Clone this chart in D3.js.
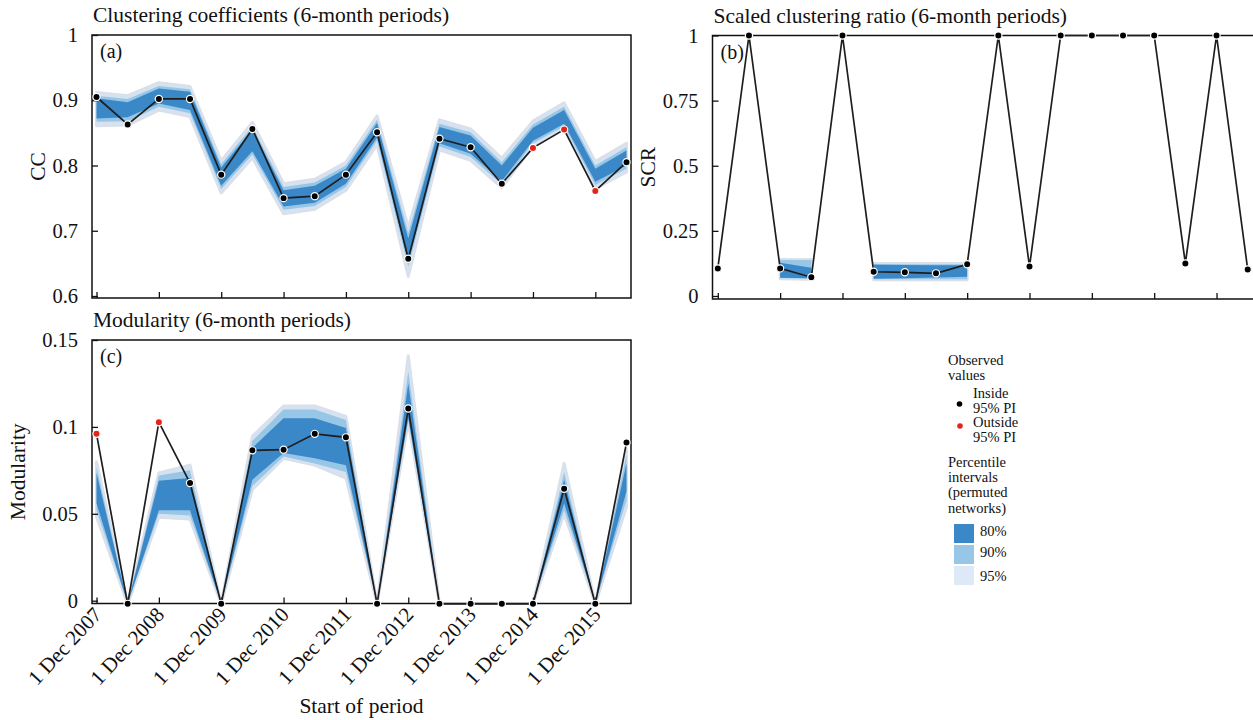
<!DOCTYPE html>
<html>
<head>
<meta charset="utf-8">
<script src="https://cdn.jsdelivr.net/npm/d3@7"></script>
<style>
  html, body { margin: 0; padding: 0; background: #ffffff; }
  svg { display: block; font-family: "Liberation Serif", "DejaVu Serif", serif; }
</style>
</head>
<body>
<svg id="chart" width="1253" height="720"></svg>
<script>
// Six-month periods, each starting on the date given
const periods = ["1 Dec 2007", "1 Jun 2008", "1 Dec 2008", "1 Jun 2009", "1 Dec 2009", "1 Jun 2010",
  "1 Dec 2010", "1 Jun 2011", "1 Dec 2011", "1 Jun 2012", "1 Dec 2012", "1 Jun 2013",
  "1 Dec 2013", "1 Jun 2014", "1 Dec 2014", "1 Jun 2015", "1 Dec 2015", "1 Jun 2016"];
const tickIndex = [0, 2, 4, 6, 8, 10, 12, 14, 16];
const tickLabels = ["1 Dec 2007", "1 Dec 2008", "1 Dec 2009", "1 Dec 2010", "1 Dec 2011",
  "1 Dec 2012", "1 Dec 2013", "1 Dec 2014", "1 Dec 2015"];

// (a) Clustering coefficient
const ccObserved = [0.905, 0.863, 0.902, 0.902, 0.786, 0.856, 0.750, 0.753, 0.786, 0.851,
  0.657, 0.841, 0.828, 0.772, 0.827, 0.855, 0.761, 0.805];
const ccOutside = [0, 0, 0, 0, 0, 0, 0, 0, 0, 0, 0, 0, 0, 0, 1, 1, 1, 0];
const cc80 = [[0.872, 0.903], [0.874, 0.897], [0.895, 0.918], [0.885, 0.913], [0.769, 0.797],
  [0.822, 0.855], [0.737, 0.762], [0.743, 0.769], [0.772, 0.795], [0.843, 0.865],
  [0.652, 0.688], [0.834, 0.859], [0.818, 0.846], [0.776, 0.800], [0.838, 0.858],
  [0.864, 0.885], [0.775, 0.795], [0.800, 0.823]];
const cc90 = [[0.867, 0.907], [0.868, 0.902], [0.890, 0.922], [0.880, 0.917], [0.764, 0.802],
  [0.817, 0.860], [0.732, 0.767], [0.738, 0.774], [0.767, 0.800], [0.838, 0.870],
  [0.645, 0.697], [0.829, 0.864], [0.813, 0.851], [0.771, 0.805], [0.834, 0.863],
  [0.860, 0.890], [0.770, 0.800], [0.795, 0.828]];
const cc95 = [[0.861, 0.912], [0.862, 0.907], [0.885, 0.927], [0.875, 0.921], [0.758, 0.807],
  [0.812, 0.866], [0.726, 0.772], [0.733, 0.779], [0.762, 0.805], [0.832, 0.876],
  [0.630, 0.705], [0.824, 0.870], [0.808, 0.856], [0.766, 0.811], [0.830, 0.868],
  [0.857, 0.896], [0.765, 0.806], [0.790, 0.834]];

// (b) Scaled clustering ratio (intervals only where the permuted values vary)
const scrObserved = [0.106, 1, 0.106, 0.072, 1, 0.093, 0.091, 0.087, 0.122, 1,
  0.113, 1, 1, 1, 1, 0.125, 1, 0.102];
const scrOutside = [0, 0, 0, 0, 0, 0, 0, 0, 0, 0, 0, 0, 0, 0, 0, 0, 0, 0];
const scr80 = [null, null, [0.070, 0.128], [0.068, 0.108], null, [0.066, 0.120], [0.068, 0.119],
  [0.071, 0.118], [0.074, 0.118], null, null, null, null, null, null, null, null, null];
const scr90 = [null, null, [0.068, 0.138], [0.066, 0.138], null, [0.064, 0.123], [0.064, 0.122],
  [0.064, 0.122], [0.064, 0.122], null, null, null, null, null, null, null, null, null];
const scr95 = [null, null, [0.066, 0.140], [0.064, 0.140], null, [0.062, 0.125], [0.062, 0.125],
  [0.062, 0.125], [0.062, 0.125], null, null, null, null, null, null, null, null, null];

// (c) Modularity
const modObserved = [0.096, -0.0018, 0.1027, 0.0677, -0.0018, 0.0865, 0.0869, 0.096, 0.094, -0.0018,
  0.1106, -0.0018, -0.0018, -0.0018, -0.0018, 0.0644, -0.0018, 0.091];
const modOutside = [1, 0, 1, 0, 0, 0, 0, 0, 0, 0, 0, 0, 0, 0, 0, 0, 0, 0];
const mod80 = [[0.056, 0.0735], [-0.0018, -0.0018], [0.052, 0.069], [0.052, 0.0706], [-0.0018, -0.0018],
  [0.0696, 0.088], [0.085, 0.105], [0.082, 0.105], [0.078, 0.0994], [-0.0018, -0.0018],
  [0.105, 0.125], [-0.0018, -0.0018], [-0.0018, -0.0018], [-0.0018, -0.0018], [-0.0018, -0.0018],
  [0.056, 0.0696], [-0.0018, -0.0018], [0.063, 0.079]];
const mod90 = [[0.052, 0.077], [-0.0018, -0.0018], [0.050, 0.072], [0.049, 0.075], [-0.0018, -0.0018],
  [0.066, 0.092], [0.083, 0.110], [0.079, 0.110], [0.074, 0.104], [-0.0018, -0.0018],
  [0.104, 0.132], [-0.0018, -0.0018], [-0.0018, -0.0018], [-0.0018, -0.0018], [-0.0018, -0.0018],
  [0.052, 0.074], [-0.0018, -0.0018], [0.058, 0.084]];
const mod95 = [[0.0485, 0.080], [-0.0018, -0.0018], [0.048, 0.0735], [0.047, 0.078], [-0.0018, -0.0018],
  [0.064, 0.0946], [0.082, 0.112], [0.078, 0.112], [0.0706, 0.106], [-0.0018, -0.0018],
  [0.103, 0.141], [-0.0018, -0.0018], [-0.0018, -0.0018], [-0.0018, -0.0018], [-0.0018, -0.0018],
  [0.050, 0.079], [-0.0018, -0.0018], [0.054, 0.087]];

const ccTicks = [0.6, 0.7, 0.8, 0.9, 1];
const ccTickLabels = ["0.6", "0.7", "0.8", "0.9", "1"];
const scrTicks = [0, 0.25, 0.5, 0.75, 1];
const scrTickLabels = ["0", "0.25", "0.5", "0.75", "1"];
const modTicks = [0, 0.05, 0.1, 0.15];
const modTickLabels = ["0", "0.05", "0.1", "0.15"];

const colors = { p80: "#3a88c7", p90: "#98c6e6", p95: "#d6e2f0", halo: "#dadfe8",
  line: "#1e1e1e", inside: "#000000", outside: "#e3241b" };
const serif = "Liberation Serif, DejaVu Serif, serif";

const svg = d3.select("#chart");

function drawPanel(cfg) {
  const g = svg.append("g");
  const { left, right, top, bottom } = cfg.frame;
  const x = d3.scaleLinear().domain([0, periods.length - 1]).range([left + cfg.pad, right - cfg.pad]);
  const y = d3.scaleLinear().domain(cfg.yDomain).range([cfg.yRange[0], cfg.yRange[1]]);

  const clipId = "clip-" + cfg.id;
  g.append("clipPath").attr("id", clipId).append("rect")
    .attr("x", left).attr("y", top).attr("width", right - left).attr("height", bottom - top);

  const plot = g.append("g").attr("clip-path", `url(#${clipId})`);
  const area = d3.area()
    .defined(d => d.b != null)
    .x(d => x(d.i))
    .y0(d => y(d.b[0]))
    .y1(d => y(d.b[1]));
  const toRows = arr => arr.map((b, i) => ({ i, b }));

  // soft outer halo, then the three percentile bands
  plot.append("path").datum(toRows(cfg.b95)).attr("d", area)
    .attr("fill", colors.halo).attr("stroke", colors.halo).attr("stroke-width", 3)
    .attr("stroke-linejoin", "round");
  plot.append("path").datum(toRows(cfg.b95)).attr("d", area).attr("fill", colors.p95);
  plot.append("path").datum(toRows(cfg.b90)).attr("d", area).attr("fill", colors.p90);
  plot.append("path").datum(toRows(cfg.b80)).attr("d", area).attr("fill", colors.p80);

  // frame
  const frame = cfg.openRight
    ? `M${right},${top}H${left}V${bottom}H${right}`
    : `M${left},${top}H${right}V${bottom}H${left}Z`;
  g.append("path").attr("d", frame).attr("fill", "none")
    .attr("stroke", "#111").attr("stroke-width", 1.5);

  // ticks point inward
  const yAxis = d3.axisLeft(y).tickValues(cfg.yTicks)
    .tickFormat((d, i) => cfg.yTickLabels[i]).tickSizeInner(-6).tickSizeOuter(0).tickPadding(14);
  const ya = g.append("g").attr("transform", `translate(${left},0)`).call(yAxis);
  ya.select(".domain").remove();
  ya.selectAll("line").attr("stroke", "#111").attr("stroke-width", 1.3);
  ya.selectAll("text").attr("font-size", 20.5).attr("fill", "#111").attr("font-family", serif);

  const xAxis = d3.axisBottom(x).tickValues(tickIndex).tickFormat("")
    .tickSizeInner(-6).tickSizeOuter(0);
  const xa = g.append("g").attr("transform", `translate(0,${bottom})`).call(xAxis);
  xa.select(".domain").remove();
  xa.selectAll("line").attr("stroke", "#111").attr("stroke-width", 1.3);

  if (cfg.xLabels) {
    xa.selectAll(".tick").append("text")
      .attr("text-anchor", "end")
      .attr("transform", "translate(6,12) rotate(-47)")
      .attr("font-size", 21).attr("fill", "#111").attr("font-family", serif)
      .text((d, i) => tickLabels[i]);
  }

  // observed series
  const line = d3.line().x((d, i) => x(i)).y(d => y(d));
  g.append("path").datum(cfg.obs).attr("d", line).attr("fill", "none")
    .attr("stroke", colors.line).attr("stroke-width", 1.7).attr("stroke-linejoin", "miter");
  g.append("g").selectAll("circle").data(cfg.obs).join("circle")
    .attr("cx", (d, i) => x(i)).attr("cy", d => y(d)).attr("r", 3.6)
    .attr("fill", (d, i) => cfg.outside[i] ? colors.outside : colors.inside)
    .attr("stroke", "#ffffff").attr("stroke-width", 1.2);

  // titles and labels
  g.append("text").attr("x", left + 1).attr("y", top - 13).attr("font-size", 21.5)
    .attr("fill", "#111").text(cfg.title);
  g.append("text").attr("x", left + 8).attr("y", top + 23).attr("font-size", 20)
    .attr("fill", "#111").text(cfg.tag);
  g.append("text").attr("transform", `translate(${cfg.yTitleX},${(top + bottom) / 2}) rotate(-90)`)
    .attr("text-anchor", "middle").attr("font-size", 21.5).attr("fill", "#111").text(cfg.yTitle);
  return { x, y };
}

drawPanel({
  id: "a", frame: { left: 92, right: 631, top: 35, bottom: 298 }, pad: 4.5,
  yDomain: [0.6, 1], yRange: [296, 35],
  yTicks: ccTicks, yTickLabels: ccTickLabels,
  obs: ccObserved, outside: ccOutside, b80: cc80, b90: cc90, b95: cc95,
  title: "Clustering coefficients (6-month periods)", tag: "(a)", yTitle: "CC", yTitleX: 45
});

drawPanel({
  id: "b", frame: { left: 712.5, right: 1253, top: 35.5, bottom: 299 }, pad: 5.3, openRight: true,
  yDomain: [0, 1], yRange: [296, 35.5],
  yTicks: scrTicks, yTickLabels: scrTickLabels,
  obs: scrObserved, outside: scrOutside, b80: scr80, b90: scr90, b95: scr95,
  title: "Scaled clustering ratio (6-month periods)", tag: "(b)", yTitle: "SCR", yTitleX: 655
});

drawPanel({
  id: "c", frame: { left: 92, right: 631, top: 340, bottom: 603.5 }, pad: 4.5, xLabels: true,
  yDomain: [0, 0.15], yRange: [600.7, 340],
  yTicks: modTicks, yTickLabels: modTickLabels,
  obs: modObserved, outside: modOutside, b80: mod80, b90: mod90, b95: mod95,
  title: "Modularity (6-month periods)", tag: "(c)", yTitle: "Modularity", yTitleX: 25
});

svg.append("text").attr("x", 361.5).attr("y", 713).attr("text-anchor", "middle")
  .attr("font-size", 21.5).attr("fill", "#111").text("Start of period");

// legend
const legendText = [
  { t: "Observed", x: 948, y: 365 }, { t: "values", x: 948, y: 380 },
  { t: "Inside", x: 973, y: 398 }, { t: "95% PI", x: 973, y: 413 },
  { t: "Outside", x: 973, y: 427 }, { t: "95% PI", x: 973, y: 442 },
  { t: "Percentile", x: 948, y: 467 }, { t: "intervals", x: 948, y: 482 },
  { t: "(permuted", x: 948, y: 497 }, { t: "networks)", x: 948, y: 513 }
];
const legend = svg.append("g").attr("font-size", 14.5).attr("fill", "#111");
legend.selectAll("text.lt").data(legendText).join("text").attr("class", "lt")
  .attr("x", d => d.x).attr("y", d => d.y).text(d => d.t);
legend.append("circle").attr("cx", 959.5).attr("cy", 404).attr("r", 2.8).attr("fill", colors.inside);
legend.append("circle").attr("cx", 960).attr("cy", 426).attr("r", 2.8).attr("fill", colors.outside);

const swatches = [
  { label: "80%", fill: colors.p80, y: 524, ty: 536 },
  { label: "90%", fill: colors.p90, y: 545, ty: 557 },
  { label: "95%", fill: "#dde9f6", y: 566, ty: 581 }
];
legend.selectAll("rect").data(swatches).join("rect")
  .attr("x", 954).attr("y", d => d.y).attr("width", 20).attr("height", 19)
  .attr("fill", d => d.fill);
legend.selectAll("text.sw").data(swatches).join("text").attr("class", "sw")
  .attr("x", 980).attr("y", d => d.ty).text(d => d.label);
</script>
</body>
</html>
